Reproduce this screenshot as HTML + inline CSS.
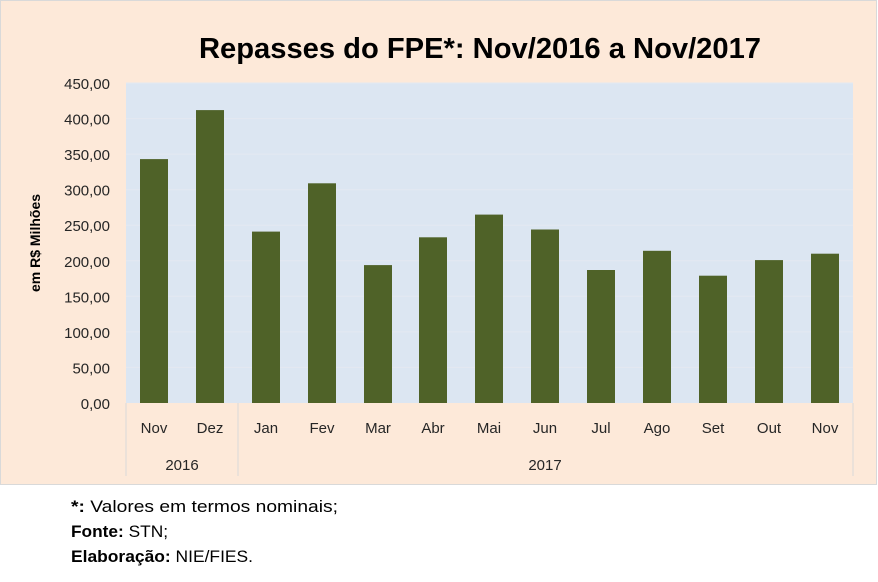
<!DOCTYPE html>
<html><head><meta charset="utf-8"><style>
body{margin:0;width:878px;height:582px;background:#fff;overflow:hidden}
svg{display:block}
text{font-family:"Liberation Sans",sans-serif;}
</style></head><body>
<svg width="878" height="582" viewBox="0 0 878 582">
<rect x="0.5" y="0.5" width="876" height="484" fill="#fde9d9" stroke="#d9d9d9"/>
<text x="480" y="58" text-anchor="middle" font-size="29" font-weight="bold" fill="#000" textLength="562" lengthAdjust="spacingAndGlyphs">Repasses do FPE*: Nov/2016 a Nov/2017</text>
<rect x="126" y="83" width="727" height="320" fill="#dce6f2"/>
<g stroke="#e4e9f1" stroke-width="1">
<line x1="126" x2="853" y1="83" y2="83"/><line x1="126" x2="853" y1="118.6" y2="118.6"/><line x1="126" x2="853" y1="154.1" y2="154.1"/><line x1="126" x2="853" y1="189.7" y2="189.7"/><line x1="126" x2="853" y1="225.2" y2="225.2"/><line x1="126" x2="853" y1="260.8" y2="260.8"/><line x1="126" x2="853" y1="296.3" y2="296.3"/><line x1="126" x2="853" y1="331.9" y2="331.9"/><line x1="126" x2="853" y1="367.4" y2="367.4"/>
</g>
<g font-size="15" fill="#262626" text-anchor="end">
<text x="110" y="89">450,00</text><text x="110" y="124.6">400,00</text><text x="110" y="160.1">350,00</text><text x="110" y="195.7">300,00</text><text x="110" y="231.2">250,00</text><text x="110" y="266.8">200,00</text><text x="110" y="302.3">150,00</text><text x="110" y="337.9">100,00</text><text x="110" y="373.4">50,00</text><text x="110" y="409">0,00</text>
</g>
<text transform="translate(40,243) rotate(-90)" text-anchor="middle" font-size="14" font-weight="bold" fill="#000">em R$ Milhões</text>
<g fill="#4f6228">
<rect x="140" y="159.1" width="28" height="243.9"/>
<rect x="196" y="110.1" width="28" height="292.9"/>
<rect x="252" y="231.6" width="28" height="171.4"/>
<rect x="308" y="183.3" width="28" height="219.7"/>
<rect x="364" y="265.1" width="28" height="137.9"/>
<rect x="419" y="237.3" width="28" height="165.7"/>
<rect x="475" y="214.6" width="28" height="188.4"/>
<rect x="531" y="229.5" width="28" height="173.5"/>
<rect x="587" y="270.0" width="28" height="133.0"/>
<rect x="643" y="250.8" width="28" height="152.2"/>
<rect x="699" y="275.7" width="28" height="127.3"/>
<rect x="755" y="260.1" width="28" height="142.9"/>
<rect x="811" y="253.7" width="28" height="149.3"/>
</g>
<g stroke="#d9d9d9"><line x1="126" x2="126" y1="403" y2="476"/><line x1="238" x2="238" y1="403" y2="476"/><line x1="853" x2="853" y1="403" y2="476"/></g>
<g font-size="15" fill="#262626" text-anchor="middle">
<text x="154" y="433">Nov</text><text x="210" y="433">Dez</text><text x="266" y="433">Jan</text><text x="322" y="433">Fev</text><text x="378" y="433">Mar</text><text x="433" y="433">Abr</text><text x="489" y="433">Mai</text><text x="545" y="433">Jun</text><text x="601" y="433">Jul</text><text x="657" y="433">Ago</text><text x="713" y="433">Set</text><text x="769" y="433">Out</text><text x="825" y="433">Nov</text>
<text x="182" y="470">2016</text><text x="545" y="470">2017</text>
</g>
<g font-size="17" fill="#000">
<text x="71" y="512" textLength="267" lengthAdjust="spacingAndGlyphs"><tspan font-weight="bold">*:</tspan> Valores em termos nominais;</text>
<text x="71" y="537" textLength="97" lengthAdjust="spacingAndGlyphs"><tspan font-weight="bold">Fonte:</tspan> STN;</text>
<text x="71" y="562" textLength="182" lengthAdjust="spacingAndGlyphs"><tspan font-weight="bold">Elaboração:</tspan> NIE/FIES.</text>
</g>
</svg>
</body></html>
